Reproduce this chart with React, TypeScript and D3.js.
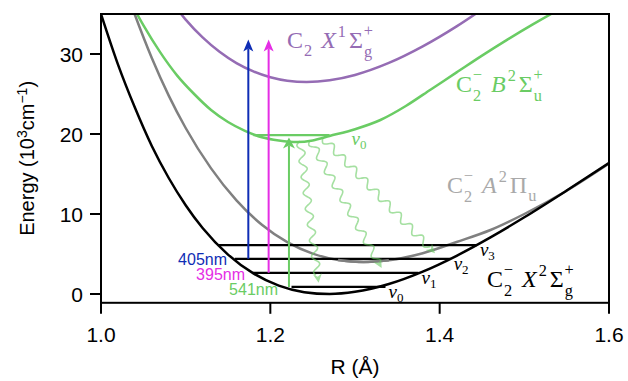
import * as d3 from 'd3'

const W = 628
const H = 381

// potential curves, (R in Å, E in 10^3 cm^-1)
const xStateCurve: [number, number][] = [
  [1.0, 35.0], [1.02, 28.7], [1.04, 23.3], [1.06, 18.5], [1.08, 14.5], [1.1, 11.1],
  [1.12, 8.25], [1.15, 4.93], [1.18, 2.57], [1.21, 1.05], [1.24, 0.23], [1.27, 0.0],
  [1.3, 0.27], [1.34, 1.25], [1.38, 2.8], [1.42, 4.78], [1.46, 7.08], [1.5, 9.59],
  [1.55, 12.93], [1.6, 16.38],
]
const aStateCurve: [number, number][] = [
  [1.03, 37.8], [1.04, 34.9], [1.06, 29.5], [1.08, 24.8], [1.1, 20.75], [1.13, 15.7],
  [1.16, 11.7], [1.19, 8.66], [1.22, 6.49], [1.25, 5.05], [1.28, 4.25], [1.31, 4.0],
  [1.34, 4.22], [1.38, 5.1], [1.42, 6.5], [1.46, 8.0], [1.5, 10.0], [1.55, 12.9], [1.6, 16.3],
]
const bStateCurve: [number, number][] = [
  [1.03, 37.5], [1.05, 33.6], [1.07, 30.2], [1.09, 27.3], [1.11, 25.0], [1.13, 23.0],
  [1.15, 21.5], [1.17, 20.4], [1.19, 19.6], [1.21, 19.2], [1.232, 19.0], [1.25, 19.2],
  [1.27, 19.75], [1.3, 20.6], [1.33, 21.75], [1.36, 23.5], [1.39, 25.6], [1.42, 27.7],
  [1.45, 29.8], [1.48, 31.8], [1.51, 33.7], [1.54, 35.5], [1.57, 37.2],
]
const c2Curve: [number, number][] = [
  [1.09, 35.6], [1.1, 34.3], [1.12, 32.07], [1.14, 30.27], [1.16, 28.86], [1.18, 27.82],
  [1.2, 27.09], [1.22, 26.66], [1.243, 26.5], [1.27, 26.71], [1.3, 27.38], [1.34, 28.88],
  [1.38, 30.95], [1.42, 33.45], [1.46, 36.3],
]

// vibrational levels of the anion ground state
const xLevelEnergy = [0.89, 2.65, 4.4, 6.1]
const xLevelLeft = [1.225, 1.179, 1.158, 1.138]
const xLevelRight = [1.336, 1.375, 1.413, 1.444]
const bLevelEnergy = 19.85
const bLevelSpan = [1.18, 1.27]

// excitation arrows
const pumpNames = ['405nm', '395nm', '541nm']
const pumpR = [1.174, 1.198, 1.222]
const pumpFrom = [4.4, 2.65, 0.89]
const pumpTo = [31.8, 31.8, 19.55]
const pumpColors = ['#0f2db5', '#e52ee5', '#6acc64']

// emission (wavy) arrows
const emitStart: [number, number][] = [[1.235, 19.1], [1.247, 19.25], [1.262, 19.5]]
const emitEnd: [number, number][] = [[1.257, 1.4], [1.3315, 3.25], [1.3945, 5.1]]

const rTicks = [1.0, 1.2, 1.4, 1.6]
const eTicks = [0, 10, 20, 30]

const x = d3.scaleLinear().domain([1.0, 1.6]).range([101, 609])
const y = d3.scaleLinear().domain([-1.1, 35]).range([302.8, 14])

const sans = "'Liberation Sans', Arial, sans-serif"
const serif = "'Liberation Serif', 'Times New Roman', serif"

type Seg = { t: string; it?: boolean; pos?: 'sub' | 'sup'; dx?: number; shift?: number }

function MathLabel({ px, py, fill, size, segs }: { px: number; py: number; fill: string; size: number; segs: Seg[] }) {
  let cur = 0
  return (
    <text x={px} y={py} fill={fill} fontSize={size} fontFamily={serif}>
      {segs.map((s, i) => {
        const def = s.pos === 'sub' ? 0.34 : s.pos === 'sup' ? -0.44 : 0
        const target = (s.shift ?? def) * size
        const dy = target - cur
        cur = target
        return (
          <tspan key={i} dy={dy} dx={s.dx ?? 0} fontStyle={s.it ? 'italic' : 'normal'} fontSize={s.pos ? size * 0.68 : size}>
            {s.t}
          </tspan>
        )
      })}
    </text>
  )
}

function headPath(tx: number, ty: number, ux: number, uy: number, len: number, half: number, notch: number) {
  const nx = -uy
  const ny = ux
  const bx = tx - ux * len
  const by = ty - uy * len
  const p = d3.path()
  p.moveTo(tx, ty)
  p.lineTo(bx + nx * half, by + ny * half)
  p.lineTo(tx - ux * (len - notch), ty - uy * (len - notch))
  p.lineTo(bx - nx * half, by - ny * half)
  p.closePath()
  return p.toString()
}

function wavy(x0: number, y0: number, x1: number, y1: number, amp: number, period: number, head: number) {
  const L = Math.hypot(x1 - x0, y1 - y0)
  const ux = (x1 - x0) / L
  const uy = (y1 - y0) / L
  const Lw = L - head
  const pts: [number, number][] = d3.range(0, Lw, 0.8).concat([Lw]).map((s) => {
    const o = amp * Math.sin((2 * Math.PI * s) / period)
    return [x0 + ux * s - uy * o, y0 + uy * s + ux * o]
  })
  return { d: d3.line()(pts) as string, head: headPath(x1, y1, ux, uy, 9, 4.5, 3) }
}

const stackDx = -8.4

export default function App() {
  const line = d3
    .line<[number, number]>()
    .x((d) => x(d[0]))
    .y((d) => y(d[1]))
    .curve(d3.curveMonotoneX)

  const [x0, x1] = x.range()
  const [yb, yt] = y.range()

  return (
    <svg width={W} height={H} style={{ position: 'absolute', left: 0, top: 0, background: '#fff' }}>
      <defs>
        <clipPath id="plot">
          <rect x={x0} y={yt} width={x1 - x0} height={yb - yt} />
        </clipPath>
      </defs>

      <g clipPath="url(#plot)">
        <path d={line(c2Curve) as string} fill="none" stroke="#956cb4" strokeWidth={2.5} />
        <path d={line(aStateCurve) as string} fill="none" stroke="#808080" strokeWidth={2.5} />
        <path d={line(bStateCurve) as string} fill="none" stroke="#6acc64" strokeWidth={2.5} />

        {xLevelEnergy.map((e, i) => (
          <line key={i} x1={x(xLevelLeft[i])} x2={x(xLevelRight[i])} y1={y(e)} y2={y(e)} stroke="#000" strokeWidth={2.2} />
        ))}
        <line x1={x(bLevelSpan[0])} x2={x(bLevelSpan[1])} y1={y(bLevelEnergy)} y2={y(bLevelEnergy)} stroke="#6acc64" strokeWidth={2.2} />

        {/* grey curve drawn over the levels */}
        <path d={line(aStateCurve.filter((d) => d[0] > 1.27 && d[0] < 1.36)) as string} fill="none" stroke="#808080" strokeWidth={2.5} />

        <path d={line(xStateCurve) as string} fill="none" stroke="#000" strokeWidth={2.5} />

        {pumpR.map((r, i) => {
          const tx = x(r)
          const ty = y(pumpTo[i])
          const len = i === 2 ? 11 : 12
          return (
            <g key={i}>
              <line x1={tx} x2={tx} y1={y(pumpFrom[i])} y2={ty + len - 3} stroke={pumpColors[i]} strokeWidth={2} />
              <path d={headPath(tx, ty, 0, -1, len, i === 2 ? 6 : 5, 3)} fill={pumpColors[i]} />
            </g>
          )
        })}

        {emitStart.map((s, i) => {
          const w = wavy(x(s[0]), y(s[1]), x(emitEnd[i][0]), y(emitEnd[i][1]), 3.6, 16, 8)
          return (
            <g key={i} opacity={0.6}>
              <path d={w.d} fill="none" stroke="#6acc64" strokeWidth={1.6} />
              <path d={w.head} fill="#6acc64" />
            </g>
          )
        })}
      </g>

      {/* spines */}
      <rect x={x0} y={yt} width={x1 - x0} height={yb - yt} fill="none" stroke="#000" strokeWidth={2} />

      {/* x axis */}
      {rTicks.map((t) => (
        <g key={t}>
          <line x1={x(t)} x2={x(t)} y1={yb} y2={yb + 11} stroke="#000" strokeWidth={2} />
          <text x={x(t)} y={342} textAnchor="middle" fontFamily={sans} fontSize={21}>
            {t.toFixed(1)}
          </text>
        </g>
      ))}
      <text x={(x0 + x1) / 2} y={374} textAnchor="middle" fontFamily={sans} fontSize={21}>
        R (Å)
      </text>

      {/* y axis */}
      {eTicks.map((t) => (
        <g key={t}>
          <line x1={x0 - 11} x2={x0} y1={y(t)} y2={y(t)} stroke="#000" strokeWidth={2} />
          <text x={83} y={y(t)} dy="0.36em" textAnchor="end" fontFamily={sans} fontSize={21}>
            {t}
          </text>
        </g>
      ))}
      <text transform={`translate(34,${(yt + yb) / 2}) rotate(-90)`} textAnchor="middle" fontFamily={sans} fontSize={20}>
        Energy (10
        <tspan dy={-7} fontSize={14}>3</tspan>
        <tspan dy={7}>cm</tspan>
        <tspan dy={-7} fontSize={14}>−1</tspan>
        <tspan dy={7}>)</tspan>
      </text>

      {/* level labels */}
      {xLevelEnergy.map((e, i) => (
        <text key={i} x={x(xLevelRight[i]) + 3} y={y(e) + 11} fontFamily={serif} fontSize={19}>
          <tspan fontStyle="italic">ν</tspan>
          <tspan dy={4} fontSize={13}>{i}</tspan>
        </text>
      ))}
      <text x={x(bLevelSpan[1]) + 22} y={y(bLevelEnergy) + 10} fontFamily={serif} fontSize={19} fill="#6acc64">
        <tspan fontStyle="italic">ν</tspan>
        <tspan dy={4} fontSize={13}>0</tspan>
      </text>

      {/* wavelength labels */}
      {pumpNames.map((n, i) => (
        <text key={n} x={[227, 245, 278][i]} y={[265, 280, 295][i]} textAnchor="end" fontFamily={sans} fontSize={16} fill={pumpColors[i]}>
          {n}
        </text>
      ))}

      {/* state labels */}
      <MathLabel px={287} py={48} size={24} fill="#956cb4"
        segs={[{ t: 'C' }, { t: '2', pos: 'sub', dx: 1 }, { t: 'X', it: true, dx: 9 }, { t: '1', pos: 'sup', dx: 2 }, { t: 'Σ', dx: 3 }, { t: 'g', pos: 'sub', dx: 1, shift: 0.38 }, { t: '+', pos: 'sup', dx: stackDx, shift: -0.5 }]} />
      <MathLabel px={456} py={92} size={24} fill="#6acc64"
        segs={[{ t: 'C' }, { t: '2', pos: 'sub', dx: 1, shift: 0.38 }, { t: '−', pos: 'sup', dx: stackDx, shift: -0.5 }, { t: 'B', it: true, dx: 9 }, { t: '2', pos: 'sup', dx: 2 }, { t: 'Σ', dx: 3 }, { t: 'u', pos: 'sub', dx: 1, shift: 0.38 }, { t: '+', pos: 'sup', dx: stackDx, shift: -0.5 }]} />
      <MathLabel px={447} py={193} size={24} fill="#a9a9a9"
        segs={[{ t: 'C' }, { t: '2', pos: 'sub', dx: 1, shift: 0.38 }, { t: '−', pos: 'sup', dx: stackDx, shift: -0.5 }, { t: 'A', it: true, dx: 9 }, { t: '2', pos: 'sup', dx: 2 }, { t: 'Π', dx: 3 }, { t: 'u', pos: 'sub', dx: 1 }]} />
      <MathLabel px={487} py={287} size={24} fill="#000"
        segs={[{ t: 'C' }, { t: '2', pos: 'sub', dx: 1, shift: 0.38 }, { t: '−', pos: 'sup', dx: stackDx, shift: -0.5 }, { t: 'X', it: true, dx: 9 }, { t: '2', pos: 'sup', dx: 2 }, { t: 'Σ', dx: 3 }, { t: 'g', pos: 'sub', dx: 1, shift: 0.38 }, { t: '+', pos: 'sup', dx: stackDx, shift: -0.5 }]} />
    </svg>
  )
}
